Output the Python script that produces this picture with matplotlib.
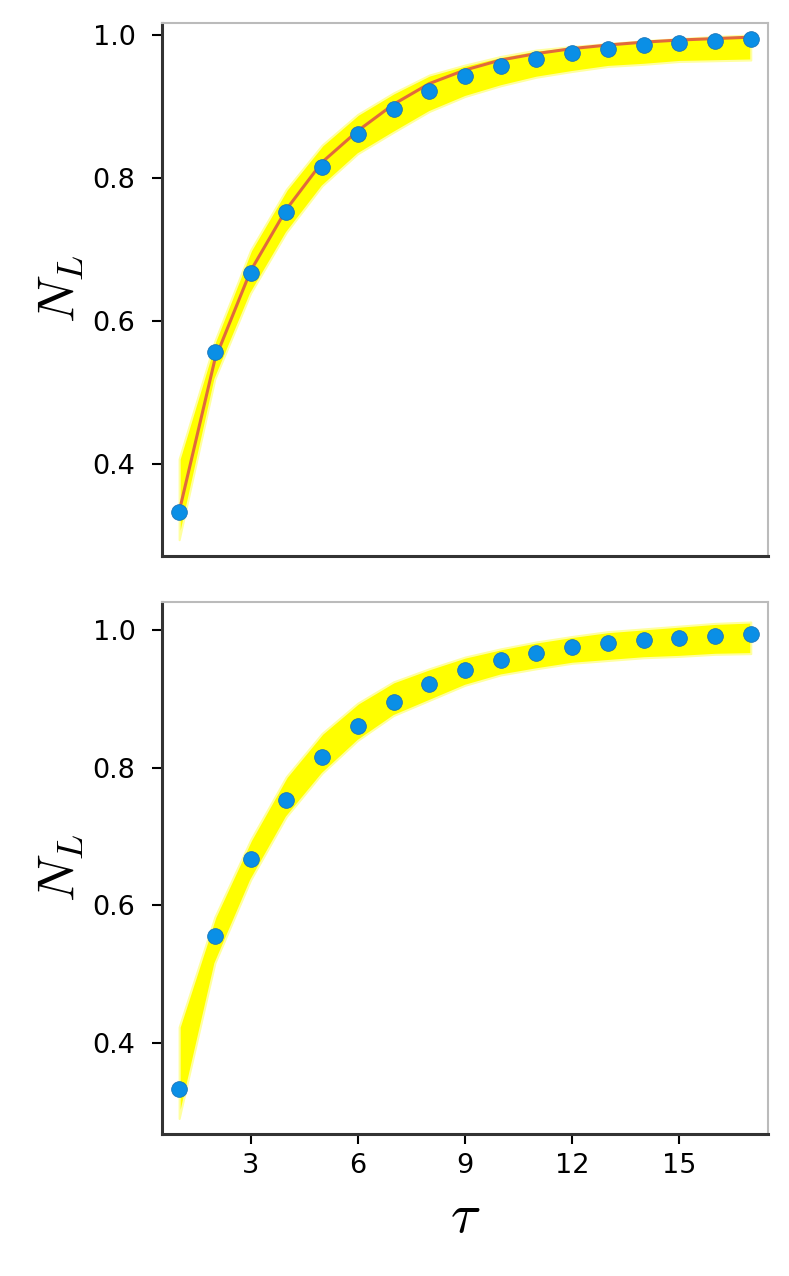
import numpy as np
import matplotlib.pyplot as plt

plt.rcParams['mathtext.fontset'] = 'cm'
plt.rcParams['font.family'] = ['DejaVu Sans']

# data
tau = np.arange(1, 18)
n_l = [0.333, 0.556, 0.667, 0.753, 0.815, 0.861, 0.896, 0.922, 0.942,
       0.957, 0.967, 0.975, 0.981, 0.986, 0.989, 0.992, 0.994]
fit_line = [0.333, 0.546, 0.670, 0.756, 0.822, 0.866, 0.903, 0.932, 0.951,
            0.965, 0.974, 0.981, 0.986, 0.990, 0.993, 0.995, 0.997]

band_top_hi = [0.407, 0.572, 0.699, 0.784, 0.846, 0.889, 0.919, 0.944, 0.958,
               0.970, 0.979, 0.984, 0.988, 0.992, 0.995, 0.998, 1.000]
band_top_lo = [0.294, 0.519, 0.639, 0.724, 0.789, 0.834, 0.864, 0.893, 0.914,
               0.929, 0.941, 0.949, 0.956, 0.959, 0.963, 0.964, 0.965]

band_bot_hi = [0.423, 0.583, 0.695, 0.787, 0.850, 0.894, 0.925, 0.944, 0.961,
               0.973, 0.983, 0.991, 0.998, 1.002, 1.006, 1.010, 1.012]
band_bot_lo = [0.290, 0.516, 0.637, 0.729, 0.792, 0.840, 0.876, 0.898, 0.920,
               0.935, 0.944, 0.952, 0.956, 0.960, 0.962, 0.965, 0.966]

yticks = [0.4, 0.6, 0.8, 1.0]
xticks = [3, 6, 9, 12, 15]

dot_color = '#0a8fe6'
line_color = '#e2693c'

fig = plt.figure(figsize=(7.89, 12.76), dpi=100)
ax1 = fig.add_axes([0.2053, 0.5643, 0.768, 0.4179])
ax2 = fig.add_axes([0.2053, 0.1110, 0.768, 0.4170])


def style_axes(ax, ylim, show_x):
    ax.set_xlim(0.52, 17.48)
    ax.set_ylim(*ylim)
    ax.set_yticks(yticks)
    ax.set_yticklabels(['%.1f' % v for v in yticks])
    for side in ['left', 'bottom']:
        ax.spines[side].set_color('#333333')
        ax.spines[side].set_linewidth(2.2)
    for side in ['top', 'right']:
        ax.spines[side].set_color('#bbbbbb')
        ax.spines[side].set_linewidth(1.5)
    ax.tick_params(axis='y', length=7, width=1.5, pad=12, labelsize=19.5)
    if show_x:
        ax.set_xticks(xticks)
        ax.tick_params(axis='x', length=7.5, width=1.5, pad=6, labelsize=19.5)
        ax.set_xlabel(r'$\tau$', fontsize=40)
        ax.xaxis.set_label_coords(0.5, -0.105)
    else:
        ax.set_xticks([])
    ax.set_ylabel(r'$N_L$', fontsize=38)
    ax.yaxis.set_label_coords(-0.125, 0.5)


# top panel: band, fitted line, points
ax1.fill_between(tau, band_top_lo, band_top_hi, facecolor='#ffff00',
                 edgecolor='#ffffa0', linewidth=1.5, zorder=1)
ax1.plot(tau, fit_line, color=line_color, lw=2.2, zorder=2)
ax1.plot(tau, n_l, 'o', color=dot_color, ms=11.3, mec='#1a75b8', mew=0.6, zorder=3)
style_axes(ax1, (0.2713, 1.0172), False)

# bottom panel: band and points
ax2.fill_between(tau, band_bot_lo, band_bot_hi, facecolor='#ffff00',
                 edgecolor='#ffffa0', linewidth=1.5, zorder=1)
ax2.plot(tau, n_l, 'o', color=dot_color, ms=11.3, mec='#1a75b8', mew=0.6, zorder=3)
style_axes(ax2, (0.2669, 1.0407), True)

fig.savefig('out.png', dpi=100)
